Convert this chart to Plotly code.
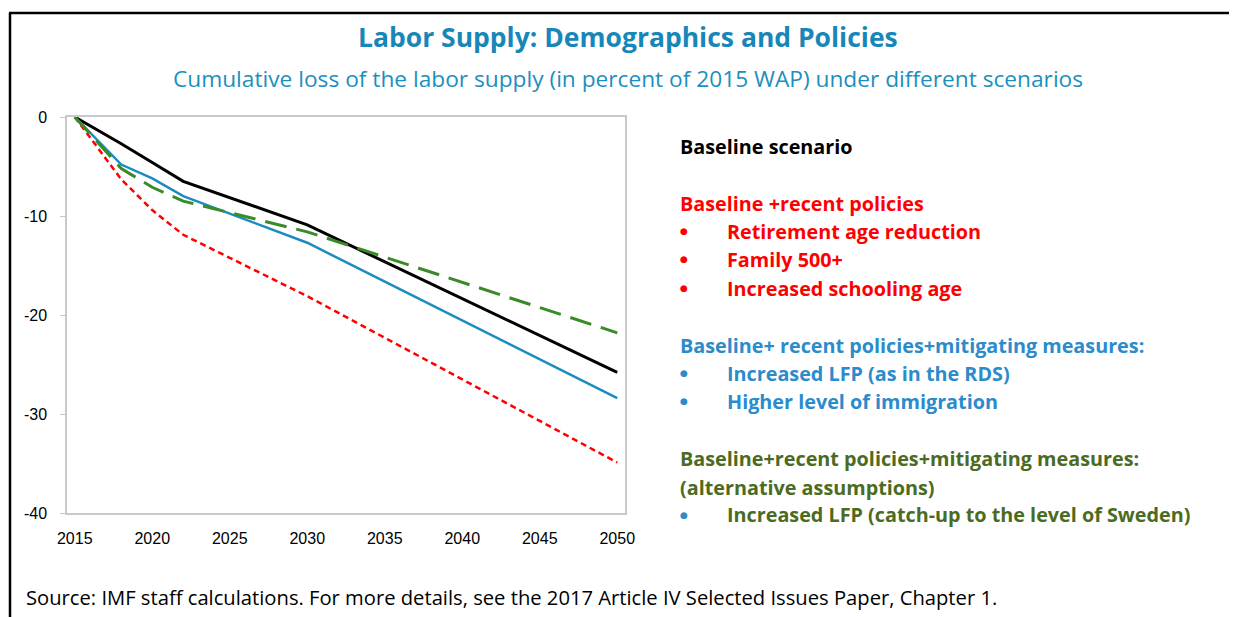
import plotly.graph_objects as go

# data
years = [2015, 2018, 2020, 2022, 2030, 2050]
baseline = [0, -2.7, -4.6, -6.5, -10.9, -25.8]
recent_policies = [0, -6.3, -9.4, -11.9, -18.1, -34.9]
mitigating = [0, -4.8, -6.2, -8.0, -12.7, -28.4]
mitigating_alt = [0, -5.2, -7.1, -8.5, -11.6, -21.8]

x_ticks = [2015, 2020, 2025, 2030, 2035, 2040, 2045, 2050]
y_ticks = [0, -10, -20, -30, -40]
y_labels = ['0', '-10', '-20', '-30', '-40']

# page body has an 8px margin, so everything is laid out in screen pixels minus 8
OFF = 8
W, H = 1237 - OFF, 617 - OFF
L, R, T, B = 67 - OFF, 625 - OFF, 117 - OFF, 513 - OFF


def px(x):
    return (x - OFF - L) / (R - L)


def py(y):
    return (B - (y - OFF)) / (B - T)


FONT = "Open Sans, Noto Sans, sans-serif"
TICKFONT = "Liberation Sans Narrow, Liberation Sans, sans-serif"

fig = go.Figure()
fig.add_trace(go.Scatter(x=years, y=baseline, mode='lines', name='Baseline scenario',
                         line=dict(color='#000000', width=3)))
fig.add_trace(go.Scatter(x=years, y=recent_policies, mode='lines', name='Baseline +recent policies',
                         line=dict(color='#ff0000', width=2.5, dash='6px,4px')))
fig.add_trace(go.Scatter(x=years, y=mitigating, mode='lines', name='Mitigating measures',
                         line=dict(color='#1a8cc0', width=2.5)))
fig.add_trace(go.Scatter(x=years, y=mitigating_alt, mode='lines', name='Mitigating (alternative)',
                         line=dict(color='#3a8a2a', width=3, dash='22px,10px')))

# legend-like text block on the right
legend_lines = [
    (146, None, 'Baseline scenario', '#000000'),
    (203, None, 'Baseline +recent policies', '#ff0000'),
    (231, '#ff0000', 'Retirement age reduction', '#ff0000'),
    (259, '#ff0000', 'Family 500+', '#ff0000'),
    (288, '#ff0000', 'Increased schooling age', '#ff0000'),
    (345, None, 'Baseline+ recent policies+mitigating measures:', '#2b8bcb'),
    (373, '#2b8bcb', 'Increased LFP (as in the RDS)', '#2b8bcb'),
    (401, '#2b8bcb', 'Higher level of immigration', '#2b8bcb'),
    (458, None, 'Baseline+recent policies+mitigating measures:', '#4c6b22'),
    (487, None, '(alternative assumptions)', '#4c6b22'),
    (515, '#2b8bcb', 'Increased LFP (catch-up to the level of Sweden)', '#4c6b22'),
]
for yy, bullet, text, col in legend_lines:
    if bullet:
        fig.add_annotation(x=px(678), y=py(yy), xref='paper', yref='paper', text='●',
                           showarrow=False, xanchor='left', yanchor='middle',
                           font=dict(family="DejaVu Sans", size=9, color=bullet))
        xx = 725
    else:
        xx = 678
    fig.add_annotation(x=px(xx), y=py(yy), xref='paper', yref='paper', text='<b>%s</b>' % text,
                       showarrow=False, xanchor='left', yanchor='middle',
                       font=dict(family=FONT, size=19.8, color=col))

fig.add_annotation(x=px(628), y=py(37), xref='paper', yref='paper',
                   text='<b>Labor Supply: Demographics and Policies</b>', showarrow=False,
                   xanchor='center', yanchor='middle', font=dict(family=FONT, size=26.5, color='#1787b9'))
fig.add_annotation(x=px(628), y=py(78), xref='paper', yref='paper',
                   text='Cumulative loss of the labor supply (in percent of 2015 WAP) under different scenarios',
                   showarrow=False, xanchor='center', yanchor='middle',
                   font=dict(family=FONT, size=22.7, color='#1b8fc0'))
fig.add_annotation(x=px(24), y=py(597), xref='paper', yref='paper',
                   text='Source: IMF staff calculations. For more details, see the 2017 Article IV Selected Issues Paper, Chapter 1.',
                   showarrow=False, xanchor='left', yanchor='middle',
                   font=dict(family=FONT, size=20.2, color='#000000'))

# outer frame (top and left edges)
fig.add_shape(type='line', xref='paper', yref='paper', x0=px(9), x1=px(1245), y0=py(13), y1=py(13),
              line=dict(color='#000000', width=2.5))
fig.add_shape(type='line', xref='paper', yref='paper', x0=px(10), x1=px(10), y0=py(13), y1=py(625),
              line=dict(color='#000000', width=2.5))

fig.update_layout(
    width=W, height=H,
    margin=dict(l=L, r=W - R, t=T, b=H - B),
    plot_bgcolor='white', paper_bgcolor='white',
    showlegend=False,
    font=dict(family=FONT, color='#000000'),
    xaxis=dict(range=[2014.5, 2050.5], tickvals=x_ticks, showgrid=False, zeroline=False,
               showline=True, linecolor='#c8c8c8', linewidth=1.5, mirror=True, ticks='',
               ticklabelstandoff=10,
               tickfont=dict(family=TICKFONT, size=16, color='#000000')),
    yaxis=dict(range=[-40, 0], tickvals=y_ticks, ticktext=y_labels, showgrid=False, zeroline=False,
               showline=True, linecolor='#c8c8c8', linewidth=1.5, mirror=True, ticks='outside',
               ticklen=5, tickcolor='#c8c8c8', ticklabelstandoff=10,
               tickfont=dict(family=TICKFONT, size=16, color='#000000')),
)

fig.write_html("out.html")
